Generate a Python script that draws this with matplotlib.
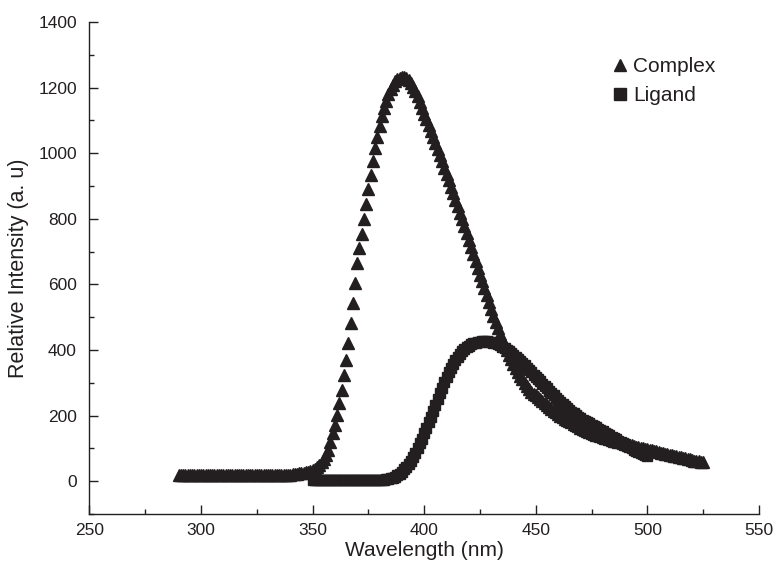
import matplotlib
matplotlib.use("Agg")
import matplotlib.pyplot as plt
from matplotlib.ticker import MultipleLocator

plt.rcParams['font.family'] = ['Liberation Sans', 'DejaVu Sans']

ink = '#231f20'

# Complex emission, 290..525 nm in 1 nm steps
complex_start = 290
complex_vals = [
    20, 20, 20, 20, 20, 20, 20, 20, 20, 20,          # 290-299
    20, 20, 20, 20, 20, 20, 20, 20, 20, 20,          # 300-309
    20, 20, 20, 20, 20, 20, 20, 20, 20, 20,          # 310-319
    20, 20, 20, 20, 20, 20, 20, 20, 20, 20,          # 320-329
    20, 20, 20, 20, 20, 20, 20, 20, 20, 20,          # 330-339
    20, 21, 22, 23, 24, 25, 26, 27, 28, 30,          # 340-349
    33, 37, 42, 49, 57, 67, 80, 96, 120, 146,        # 350-359
    171, 201, 238, 277, 323, 369, 421, 482, 543, 604,  # 360-369
    665, 712, 755, 800, 846, 890, 934, 975, 1015, 1050,  # 370-379
    1083, 1112, 1138, 1160, 1180, 1196, 1209, 1219, 1226, 1230,  # 380-389
    1232, 1231, 1228, 1222, 1213, 1202, 1189, 1174, 1157, 1139,  # 390-399
    1121, 1103, 1085, 1067, 1049, 1031, 1013, 994, 975, 956,  # 400-409
    937, 918, 898, 878, 858, 838, 818, 798, 777, 756,  # 410-419
    735, 714, 693, 672, 651, 630, 609, 588, 567, 546,  # 420-429
    525, 505, 486, 467, 449, 432, 416, 400, 385, 371,  # 430-439
    357, 344, 332, 321, 310, 300, 290, 280, 271, 266,  # 440-449
    262, 256, 250, 244, 238, 232, 226, 221, 215, 210,  # 450-459
    205, 200, 196, 191, 187, 183, 179, 175, 171, 167,  # 460-469
    163, 160, 157, 154, 151, 148, 145, 142, 140, 137,  # 470-479
    135, 133, 131, 128, 126, 124, 122, 120, 118, 116,  # 480-489
    114, 112, 110, 109, 107, 105, 103, 101, 100, 98,   # 490-499
    97, 95, 94, 92, 91, 89, 87, 86, 84, 83,            # 500-509
    81, 79, 78, 76, 75, 73, 71, 70, 68, 67,            # 510-519
    65, 63, 62, 60, 59, 57,                            # 520-525
]

# Ligand emission, 350..500 nm in 1 nm steps
ligand_start = 350
ligand_vals = [
    3, 3, 3, 3, 3, 3, 3, 3, 3, 3,                    # 350-359
    3, 3, 3, 3, 3, 3, 3, 3, 3, 3,                    # 360-369
    3, 3, 3, 3, 3, 3, 3, 3, 3, 3,                    # 370-379
    3, 4, 5, 6, 7, 9, 11, 14, 18, 23,                # 380-389
    29, 36, 44, 53, 63, 74, 87, 101, 115, 130,       # 390-399
    146, 162, 179, 196, 214, 232, 250, 268, 285, 301,  # 400-409
    317, 332, 346, 358, 369, 379, 388, 396, 403, 409,  # 410-419
    413, 417, 420, 422, 424, 425, 426, 426, 426, 425,  # 420-429
    424, 422, 420, 417, 414, 410, 406, 401, 396, 391,  # 430-439
    385, 379, 373, 367, 360, 353, 346, 339, 332, 325,  # 440-449
    318, 311, 304, 297, 290, 283, 276, 269, 262, 255,  # 450-459
    249, 242, 236, 230, 224, 218, 212, 207, 202, 197,  # 460-469
    192, 188, 184, 180, 176, 172, 168, 164, 160, 156,  # 470-479
    152, 148, 144, 140, 136, 132, 128, 124, 120, 116,  # 480-489
    112, 108, 104, 100, 96, 92, 88, 85, 82, 79,        # 490-499
    76,                                                # 500
]

complex_x = list(range(complex_start, complex_start + len(complex_vals)))
ligand_x = list(range(ligand_start, ligand_start + len(ligand_vals)))

fig = plt.figure(figsize=(7.76, 5.64), dpi=100)
ax = fig.add_axes([0.1153, 0.0887, 0.8627, 0.8723])

ax.plot(ligand_x, ligand_vals, 's', ms=7.5, color=ink, mec=ink, label='Ligand')
ax.plot(complex_x, complex_vals, '^', ms=8.5, color=ink, mec=ink, label='Complex')

ax.set_xlim(250, 550)
ax.set_ylim(-100, 1400)
ax.xaxis.set_major_locator(MultipleLocator(50))
ax.xaxis.set_minor_locator(MultipleLocator(25))
ax.yaxis.set_major_locator(MultipleLocator(200))
ax.yaxis.set_minor_locator(MultipleLocator(100))

for side in ['top', 'right']:
    ax.spines[side].set_visible(False)
for side in ['left', 'bottom']:
    ax.spines[side].set_linewidth(1.0)
    ax.spines[side].set_color(ink)

ax.tick_params(which='major', direction='in', length=6.5, width=1.0, color=ink,
               labelsize=12.5, labelcolor=ink)
ax.tick_params(which='minor', direction='in', length=3.5, width=1.0, color=ink)
ax.tick_params(axis='x', which='major', pad=6.5)
ax.tick_params(axis='y', which='major', pad=9)

ax.set_xlabel('Wavelength (nm)', fontsize=15, color=ink, labelpad=2)
ax.set_ylabel('Relative Intensity (a. u)', fontsize=15.5, color=ink, labelpad=7)

handles, labels = ax.get_legend_handles_labels()
leg = ax.legend(handles[::-1], labels[::-1], loc='upper left',
                bbox_to_anchor=(0.777, 0.928), borderaxespad=0, borderpad=0,
                frameon=False, fontsize=15, handletextpad=0.12, labelspacing=0.45,
                handlelength=1.0, markerscale=1.1)
for t in leg.get_texts():
    t.set_color(ink)

fig.savefig('out.png', dpi=100)
